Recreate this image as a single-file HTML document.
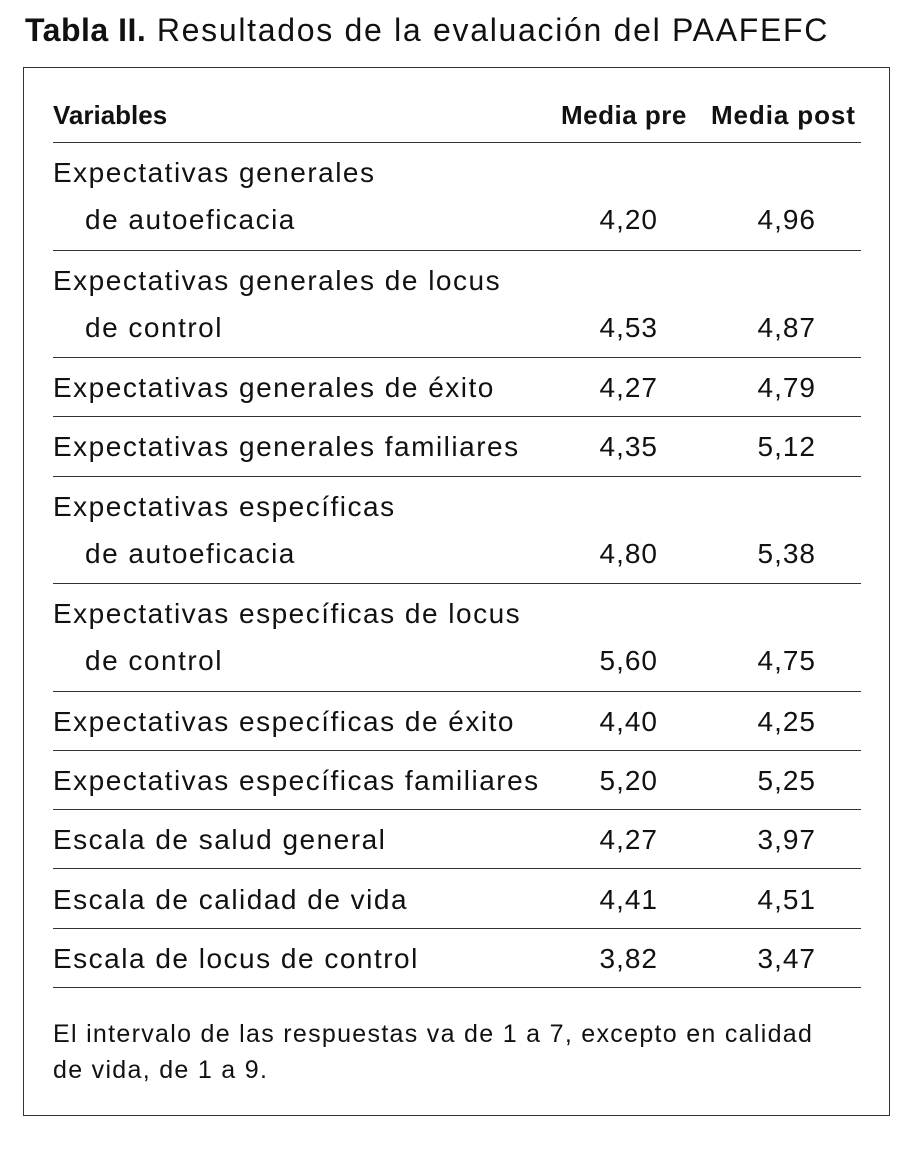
<!DOCTYPE html>
<html><head><meta charset="utf-8"><style>
body{margin:0;background:#fff;width:907px;height:1150px;position:relative;font-family:"Liberation Sans",sans-serif;color:#111;overflow:hidden}
.a{position:absolute;white-space:nowrap;line-height:1}
.t{font-size:28px;letter-spacing:1.5px}
.r{text-align:right;letter-spacing:1px}
.ln{position:absolute;left:53px;width:808px;height:1px;background:#333}
</style></head><body>
<div class="a" style="left:25px;top:14px;font-size:32px;letter-spacing:1.7px"><b style="letter-spacing:0.5px">Tabla II.</b> Resultados de la evaluación del PAAFEFC</div>
<div style="position:absolute;left:23px;top:67px;width:867px;height:1049px;border:1px solid #333;box-sizing:border-box"></div>
<div class="a" style="left:53px;top:102px;font-size:26px;font-weight:bold">Variables</div>
<div class="a" style="left:561px;top:102px;font-size:26px;font-weight:bold;letter-spacing:0.5px">Media pre</div>
<div class="a" style="left:711px;top:102px;font-size:26px;font-weight:bold;letter-spacing:0.9px">Media post</div>
<div class="ln" style="top:142px"></div>
<div id="rows"></div>
<div class="a" style="left:53px;top:1016px;font-size:25px;letter-spacing:1.3px;line-height:36px">El intervalo de las respuestas va de 1 a 7, excepto en calidad<br>de vida, de 1 a 9.</div>
<script>
const labels=[["Expectativas generales","de autoeficacia"],["Expectativas generales de locus","de control"],["Expectativas generales de éxito"],["Expectativas generales familiares"],["Expectativas específicas","de autoeficacia"],["Expectativas específicas de locus","de control"],["Expectativas específicas de éxito"],["Expectativas específicas familiares"],["Escala de salud general"],["Escala de calidad de vida"],["Escala de locus de control"]];
const pre=["4,20","4,53","4,27","4,35","4,80","5,60","4,40","5,20","4,27","4,41","3,82"];
const post=["4,96","4,87","4,79","5,12","5,38","4,75","4,25","5,25","3,97","4,51","3,47"];
const c=document.getElementById('rows');
let y=142;
labels.forEach((l,i)=>{
  const h=l.length===2?107.5:59.3;
  const r=document.createElement('div');
  
  
  let html='';
  const first=y+31-14;
  html+=`<div class="a t" style="left:53px;top:${first}px">${l[0]}</div>`;
  if(l.length===2) html+=`<div class="a t" style="left:85px;top:${first+47}px">${l[1]}</div>`;
  const vy=l.length===2?first+47:first;
  html+=`<div class="a t r" style="left:540px;width:118px;top:${vy}px">${pre[i]}</div>`;
  html+=`<div class="a t r" style="left:700px;width:116px;top:${vy}px">${post[i]}</div>`;
  y+=h;
  html+=`<div class="ln" style="top:${Math.round(y)}px"></div>`;
  r.innerHTML=html;
  c.appendChild(r);
});
</script>
</body></html>
